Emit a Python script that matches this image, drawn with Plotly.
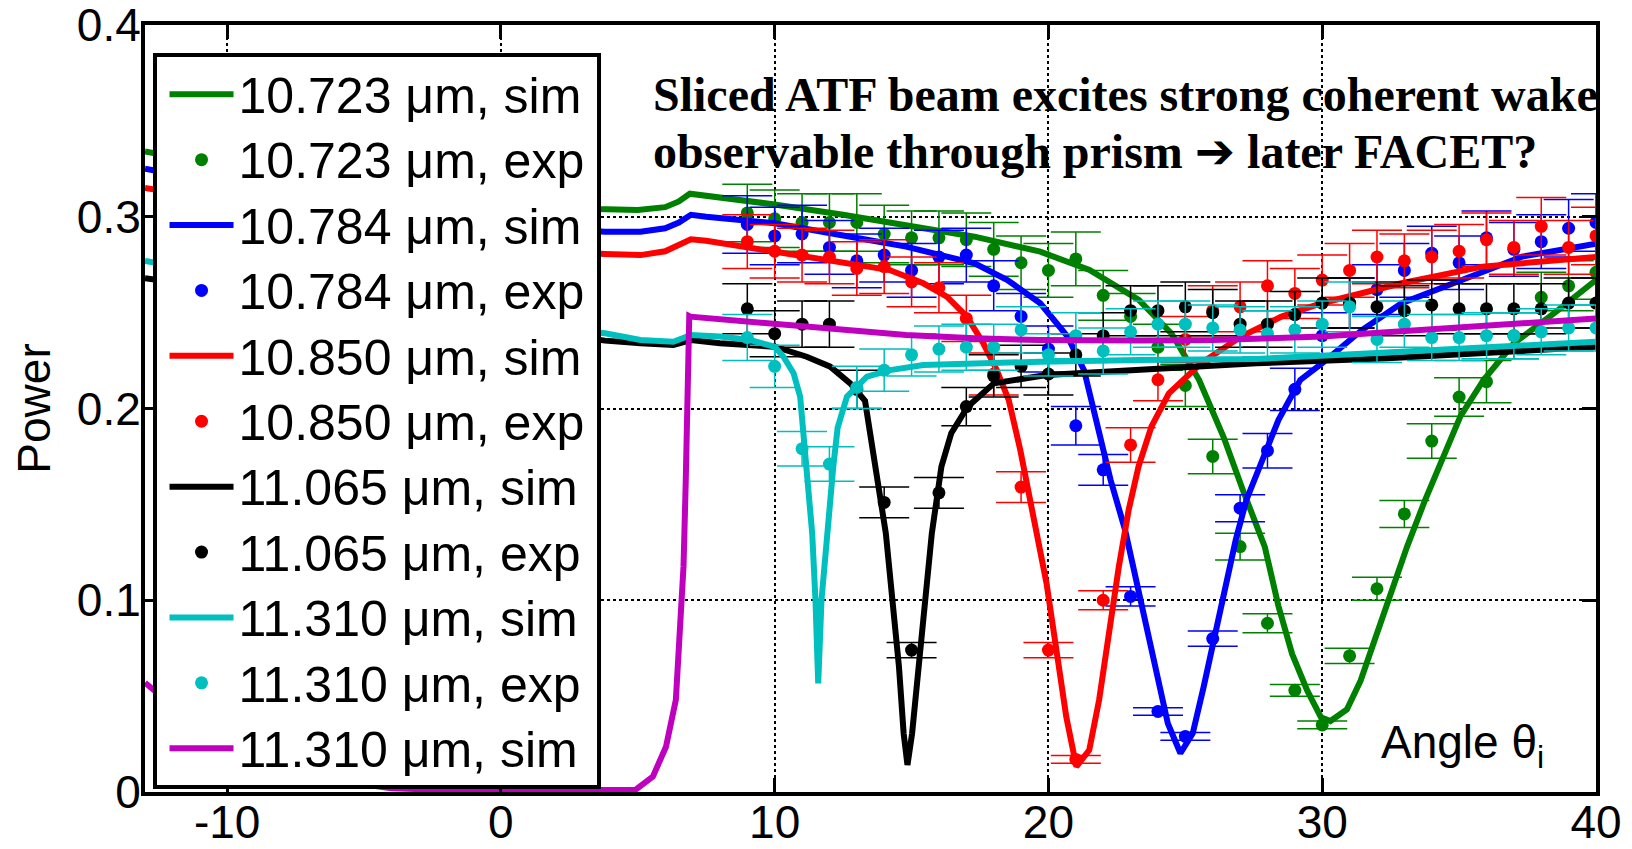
import plotly.graph_objects as go

# ---------------- data ----------------
exp_angle = [9, 10, 11, 12, 13, 14, 15, 16, 17, 18, 19, 20, 21, 22, 23, 24,
             25, 26, 27, 28, 29, 30, 31, 32, 33, 34, 35, 36, 37, 38, 39, 40]

green_exp = [0.302, 0.299, 0.297, 0.297, 0.297, 0.291, 0.289, 0.289, 0.288, 0.283, 0.276, 0.272,
             0.278, 0.259, 0.248, 0.232, 0.212, 0.175, 0.128, 0.088, 0.053, 0.035, 0.071, 0.106,
             0.145, 0.183, 0.206, 0.214, 0.238, 0.258, 0.264, 0.271]
green_err = [0.015, 0.015, 0.015, 0.015, 0.015, 0.015, 0.014, 0.014, 0.014, 0.014, 0.014, 0.014,
             0.014, 0.013, 0.012, 0.012, 0.011, 0.009, 0.007, 0.005, 0.003, 0.002, 0.004, 0.006,
             0.007, 0.009, 0.010, 0.011, 0.012, 0.013, 0.013, 0.014]

blue_exp = [0.296, 0.290, 0.291, 0.284, 0.277, 0.280, 0.272, 0.279, 0.280, 0.264, 0.248, 0.231,
            0.191, 0.168, 0.102, 0.042, 0.029, 0.080, 0.148, 0.178, 0.210, 0.238, 0.255, 0.262,
            0.272, 0.281, 0.276, 0.289, 0.283, 0.287, 0.294, 0.297]
blue_err = [0.015, 0.015, 0.015, 0.014, 0.014, 0.014, 0.014, 0.014, 0.014, 0.013, 0.012, 0.012,
            0.010, 0.008, 0.005, 0.002, 0.002, 0.004, 0.007, 0.009, 0.011, 0.012, 0.013, 0.013,
            0.014, 0.014, 0.014, 0.014, 0.014, 0.014, 0.015, 0.015]

red_exp = [0.287, 0.282, 0.280, 0.279, 0.273, 0.274, 0.266, 0.263, 0.247, 0.218, 0.159, 0.074,
           0.017, 0.100, 0.181, 0.215, 0.236, 0.251, 0.253, 0.264, 0.260, 0.267, 0.272, 0.279,
           0.277, 0.279, 0.282, 0.288, 0.284, 0.295, 0.284, 0.290]
red_err = [0.014, 0.014, 0.014, 0.014, 0.014, 0.014, 0.013, 0.013, 0.012, 0.011, 0.008, 0.004,
           0.002, 0.005, 0.009, 0.011, 0.012, 0.013, 0.013, 0.013, 0.013, 0.013, 0.014, 0.014,
           0.014, 0.014, 0.014, 0.014, 0.014, 0.015, 0.014, 0.015]

black_exp = [0.252, 0.239, 0.244, 0.244, 0.210, 0.151, 0.074, 0.156, 0.201, 0.217, 0.222, 0.218,
             0.228, 0.238, 0.251, 0.251, 0.253, 0.250, 0.244, 0.244, 0.249, 0.255, 0.255, 0.253,
             0.251, 0.254, 0.252, 0.252, 0.252, 0.252, 0.255, 0.255]
black_err = [0.013, 0.012, 0.012, 0.012, 0.010, 0.008, 0.004, 0.008, 0.010, 0.011, 0.011, 0.011,
             0.011, 0.012, 0.013, 0.013, 0.013, 0.012, 0.012, 0.012, 0.012, 0.013, 0.013, 0.013,
             0.013, 0.013, 0.013, 0.013, 0.013, 0.013, 0.013, 0.013]

cyan_exp = [0.237, 0.222, 0.179, 0.171, 0.211, 0.220, 0.228, 0.231, 0.232, 0.232, 0.241, 0.228,
            0.238, 0.230, 0.240, 0.244, 0.244, 0.242, 0.241, 0.239, 0.241, 0.244, 0.253, 0.236,
            0.244, 0.237, 0.237, 0.238, 0.238, 0.240, 0.242, 0.242]
cyan_err = [0.012, 0.011, 0.009, 0.009, 0.011, 0.011, 0.011, 0.012, 0.012, 0.012, 0.012, 0.011,
            0.012, 0.012, 0.012, 0.012, 0.012, 0.012, 0.012, 0.012, 0.012, 0.012, 0.013, 0.012,
            0.012, 0.012, 0.012, 0.012, 0.012, 0.012, 0.012, 0.012]

green_sim_x = [-13, -10, -7, -4, -1, 2, 3.5, 5, 6, 6.5, 6.9, 7.5, 10, 12.5, 14.8, 17.3, 19.7, 21.5,
               23.3, 24.5, 25.5, 26.4, 27.1, 27.9, 28.4, 28.9, 29.45, 29.95, 30.3, 30.9, 31.4,
               31.9, 32.45, 33.1, 33.75, 34.4, 35.05, 35.9, 37, 38.5, 40]
green_sim_y = [0.334, 0.326, 0.319, 0.313, 0.309, 0.305, 0.304, 0.3035, 0.305, 0.308, 0.312, 0.311,
               0.3064, 0.301, 0.2957, 0.2896, 0.2818, 0.2722, 0.2566, 0.239, 0.215, 0.185, 0.1575,
               0.128, 0.097, 0.072, 0.053, 0.039, 0.037, 0.043, 0.058, 0.079, 0.102, 0.128, 0.152,
               0.175, 0.196, 0.215, 0.234, 0.25, 0.267]

blue_sim_x = [-13, -10, -7, -4, -1, 2, 3.8, 5.1, 6, 6.5, 6.94, 7.5, 10, 12.4, 14.8, 17.3, 18.5,
              19.7, 20.7, 21.3, 21.75, 22.27, 22.8, 23.19, 23.58, 23.97, 24.36, 24.82, 25.27,
              25.67, 26.06, 26.45, 26.84, 27.23, 27.75, 28.4, 29.2, 30, 31.45, 32.9, 35.1, 37.3, 40]
blue_sim_y = [0.325, 0.317, 0.309, 0.303, 0.298, 0.294, 0.2922, 0.2922, 0.294, 0.297, 0.301, 0.300,
              0.2966, 0.2905, 0.2844, 0.2757, 0.267, 0.2549, 0.2375, 0.22, 0.1923, 0.1627, 0.1366,
              0.1106, 0.0845, 0.0584, 0.0358, 0.0202, 0.0306, 0.0549, 0.0793, 0.1071, 0.1314,
              0.1523, 0.1714, 0.194, 0.2149, 0.2236, 0.2409, 0.2549, 0.267, 0.2792, 0.286]

red_sim_x = [-13, -10, -7, -4, -1, 2, 3.8, 5.1, 6, 6.5, 6.94, 7.5, 10, 12.4, 14.2, 15.43, 16.29,
             17.02, 17.62, 18.11, 18.55, 18.97, 19.45, 19.93, 20.29, 20.65, 21.02, 21.49, 21.85,
             22.2, 22.57, 22.93, 23.29, 23.76, 24.4, 25.57, 27.04, 28.51, 29.98, 32.9, 35.85, 40]
red_sim_y = [0.315, 0.308, 0.300, 0.293, 0.287, 0.282, 0.2806, 0.280, 0.282, 0.285, 0.2882, 0.2875,
             0.2818, 0.2766, 0.2722, 0.2653, 0.2583, 0.2479, 0.234, 0.2201, 0.2044, 0.1784,
             0.1436, 0.1088, 0.0741, 0.0393, 0.0132, 0.0219, 0.048, 0.0828, 0.1175, 0.1471,
             0.1697, 0.1905, 0.2079, 0.2236, 0.2375, 0.2479, 0.2549, 0.2653, 0.274, 0.279]

black_sim_x = [-13, -10, -7, -4, -1, 2, 3.8, 5.1, 6.3, 6.94, 8, 10, 11.17, 12.03, 12.76, 13.3,
               13.7, 14.06, 14.3, 14.54, 14.71, 14.85, 15.02, 15.26, 15.5, 15.74, 16.09, 16.45,
               17.05, 18.01, 19.93, 22.8, 27.6, 32.4, 40]
black_sim_y = [0.268, 0.262, 0.256, 0.250, 0.245, 0.239, 0.2354, 0.234, 0.2331, 0.2357, 0.234,
               0.2322, 0.227, 0.2218, 0.2131, 0.204, 0.1697, 0.1349, 0.1001, 0.0653, 0.0306,
               0.0141, 0.0306, 0.0653, 0.1001, 0.1349, 0.1697, 0.1871, 0.2009, 0.2131, 0.2175,
               0.22, 0.2236, 0.2262, 0.2322]

cyan_sim_x = [-13, -10, -7, -4, -1, 2, 3.8, 5.1, 6.3, 6.94, 8, 9.1, 10, 10.32, 10.69, 10.93,
              11.18, 11.37, 11.49, 11.59, 11.71, 11.9, 12.14, 12.3, 12.64, 13.37, 14.22, 15.43,
              17.26, 19.7, 23.35, 27.6, 32, 40]
cyan_sim_y = [0.277, 0.270, 0.262, 0.255, 0.248, 0.242, 0.2392, 0.2357, 0.2348, 0.2383, 0.2375,
              0.2357, 0.2322, 0.227, 0.2184, 0.2062, 0.1697, 0.1349, 0.1001, 0.0567, 0.1001,
              0.1349, 0.1697, 0.19, 0.2062, 0.2166, 0.22, 0.2227, 0.2236, 0.2244, 0.2253, 0.2258,
              0.229, 0.2348]

magenta_sim_x = [-13, -12, -11, -10, -8, -6, -4, -2, 0, 2, 3.6, 4.9, 5.55, 6.03, 6.39, 6.55, 6.67,
                 6.75, 6.8, 6.88, 6.92, 10, 12.4, 14.8, 17.3, 19.7, 23.35, 26, 30, 32.9, 35.85, 40]
magenta_sim_y = [0.057, 0.045, 0.035, 0.026, 0.013, 0.006, 0.002, 0.001, 0.001, 0.001, 0.001, 0.001,
                 0.008, 0.0236, 0.048, 0.0828, 0.1175, 0.161, 0.2044, 0.2482, 0.2479, 0.2444,
                 0.2409, 0.2383, 0.2366, 0.2357, 0.2354, 0.2357, 0.2375, 0.2401, 0.2435, 0.247]

x_ticks = [-10, 0, 10, 20, 30, 40]
x_tick_labels = ["-10", "0", "10", "20", "30", "40"]
y_ticks = [0, 0.1, 0.2, 0.3, 0.4]
y_tick_labels = ["0", "0.1", "0.2", "0.3", "0.4"]

GREEN = "#008000"
BLUE = "#0000FF"
RED = "#FF0000"
BLACK = "#000000"
CYAN = "#00BFBF"
MAGENTA = "#BF00BF"

SANS = "Liberation Sans, Arial, Helvetica, sans-serif"
SERIF = "Liberation Serif, Times New Roman, serif"

fig = go.Figure()


def legend_label(text):
    return '<span style="font-size:50px">' + text + '</span>'


def add_sim(x, y, color, name):
    fig.add_trace(go.Scatter(x=x, y=y, mode="lines", name=legend_label(name),
                             line=dict(color=color, width=6)))


def add_exp(y, err, color, name):
    fig.add_trace(go.Scatter(x=exp_angle, y=y, mode="markers", name=legend_label(name),
                             marker=dict(color=color, size=13, symbol="circle"),
                             error_y=dict(type="data", array=err, color=color,
                                          thickness=1.5, width=25)))


add_sim(green_sim_x, green_sim_y, GREEN, "10.723 \u03bcm, sim")
add_exp(green_exp, green_err, GREEN, "10.723 \u03bcm, exp")
add_sim(blue_sim_x, blue_sim_y, BLUE, "10.784 \u03bcm, sim")
add_exp(blue_exp, blue_err, BLUE, "10.784 \u03bcm, exp")
add_sim(red_sim_x, red_sim_y, RED, "10.850 \u03bcm, sim")
add_exp(red_exp, red_err, RED, "10.850 \u03bcm, exp")
add_sim(black_sim_x, black_sim_y, BLACK, "11.065 \u03bcm, sim")
add_exp(black_exp, black_err, BLACK, "11.065 \u03bcm, exp")
add_sim(cyan_sim_x, cyan_sim_y, CYAN, "11.310 \u03bcm, sim")
add_exp(cyan_exp, cyan_err, CYAN, "11.310 \u03bcm, exp")
add_sim(magenta_sim_x, magenta_sim_y, MAGENTA, "11.310 \u03bcm, sim")

axis_common = dict(
    showline=True, linecolor="black", linewidth=4, mirror="ticks",
    ticks="inside", ticklen=14, tickwidth=3, tickcolor="black",
    showgrid=True, gridcolor="black", gridwidth=1.5, griddash="dot",
    zeroline=False, tickfont=dict(family=SANS, size=46, color="black"),
    ticklabeloverflow="allow",
)

fig.update_xaxes(range=[-13, 40], tickmode="array", tickvals=x_ticks, ticktext=x_tick_labels,
                 ticklabelstandoff=-13, **axis_common)
fig.update_yaxes(range=[0, 0.4], tickmode="array", tickvals=y_ticks, ticktext=y_tick_labels,
                 ticklabelstandoff=-9,
                 title=dict(text="Power", font=dict(family=SANS, size=46, color="black"),
                            standoff=13),
                 **axis_common)

fig.update_layout(
    width=1632, height=849,
    margin=dict(l=145, r=36, t=25, b=57, autoexpand=False),
    paper_bgcolor="white", plot_bgcolor="white",
    showlegend=True,
    legend=dict(x=0.0107, y=0.9641, xanchor="left", yanchor="top",
                bgcolor="rgba(0,0,0,0)", bordercolor="rgba(0,0,0,0)", borderwidth=4,
                font=dict(family=SANS, size=48, color="black"),
                itemwidth=64, tracegroupgap=0, traceorder="normal"),
    shapes=[
        dict(type="rect", xref="paper", yref="paper",
             x0=0.00689, x1=0.3129, y0=0.00652, y1=0.96089,
             line=dict(color="black", width=4), fillcolor="white", layer="above"),
    ],
    annotations=[
        dict(text="<b>Sliced ATF beam excites strong coherent wake</b>",
             xref="x", yref="y", x=5.47, y=0.3788, xanchor="left", yanchor="top",
             align="left", showarrow=False,
             font=dict(family=SERIF, size=48, color="black")),
        dict(text="<b>observable through prism "
                  "<span style=\"font-family:'DejaVu Sans';font-size:48px\">\u2794</span>"
                  " later FACET?</b>",
             xref="x", yref="y", x=5.47, y=0.3500, xanchor="left", yanchor="top",
             align="left", showarrow=False,
             font=dict(family=SERIF, size=48, color="black")),
        dict(text="Angle \u03b8<sub>i</sub>",
             xref="x", yref="y", x=32.09, y=0.0078, xanchor="left", yanchor="bottom",
             showarrow=False,
             font=dict(family=SANS, size=46, color="black")),
    ],
)

fig.write_html("out.html", config={"displayModeBar": False},
               post_script="document.body.style.margin='0px';")
